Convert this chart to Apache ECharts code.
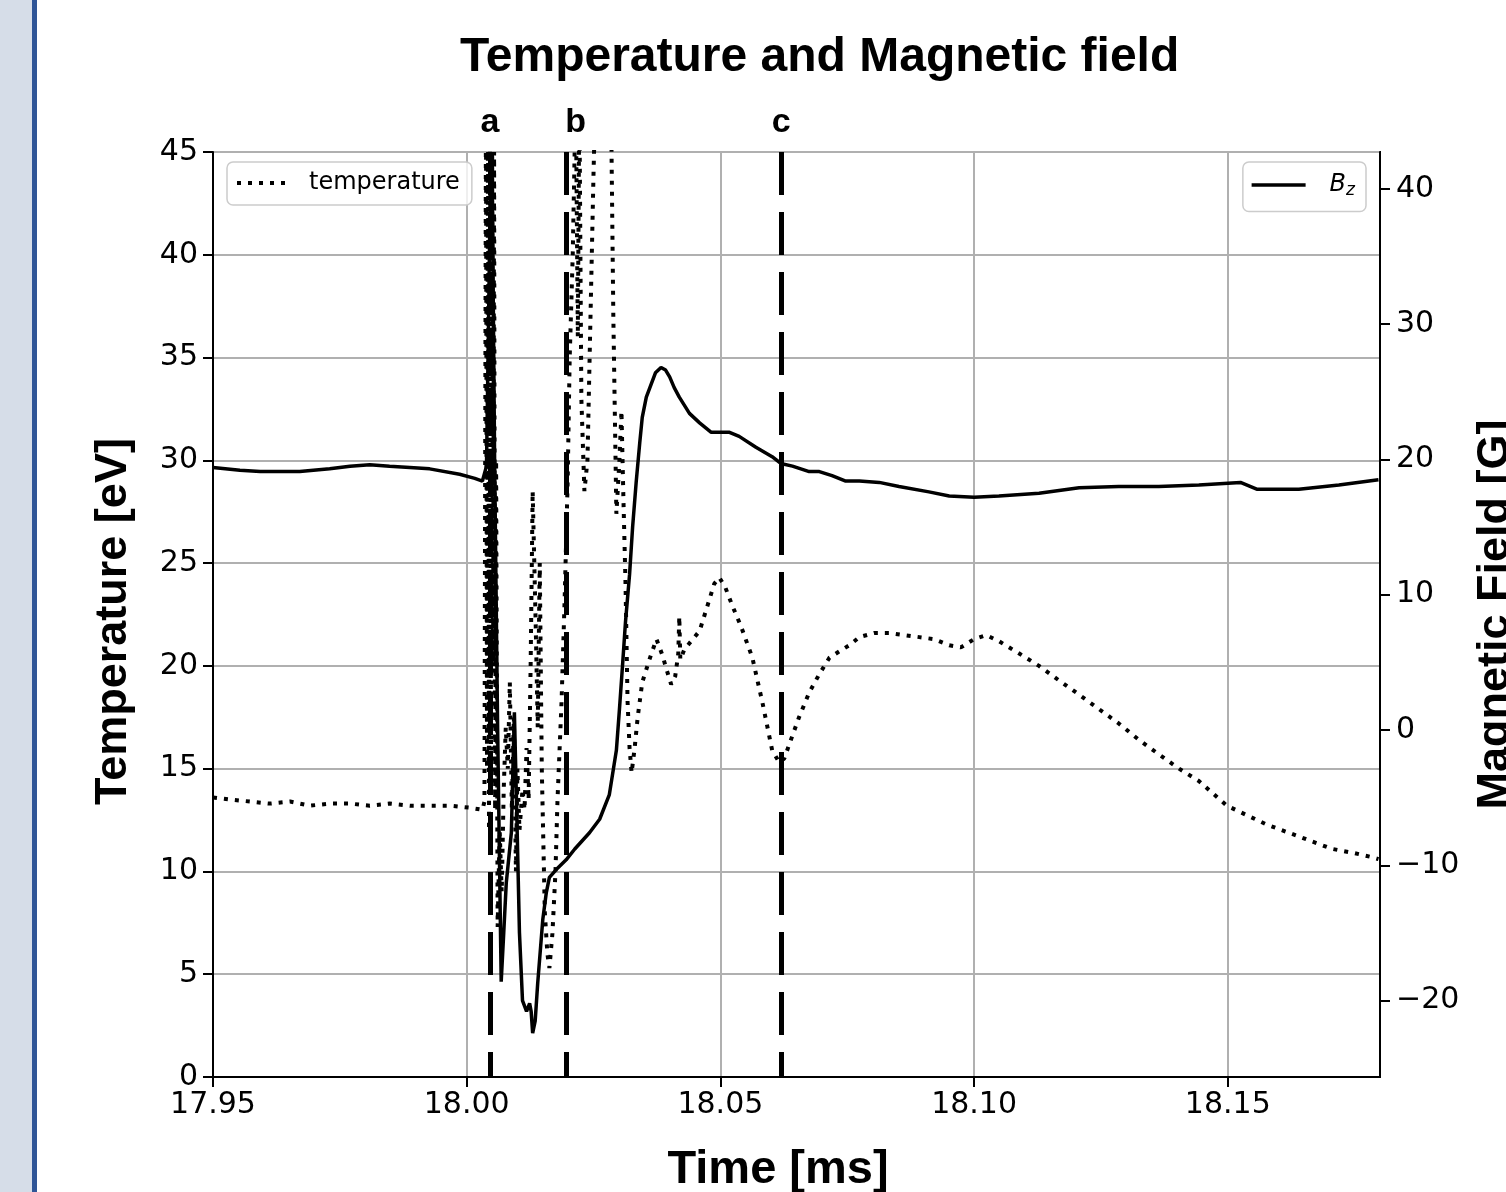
<!DOCTYPE html>
<html>
<head>
<meta charset="utf-8">
<title>Temperature and Magnetic field</title>
<script src="https://cdn.jsdelivr.net/npm/echarts@6/dist/echarts.min.js"></script>
<style>
    html, body { margin: 0; padding: 0; background: #fff; }
    #chart { width: 1506px; height: 1192px; }
</style>
</head>
<body>
<div id="chart"></div>
<script>
// time axis [ms]
const xTicks = [17.95, 18.00, 18.05, 18.10, 18.15];
const tempTicks = [0, 5, 10, 15, 20, 25, 30, 35, 40, 45];
const bzTicks = [-20, -10, 0, 10, 20, 30, 40];

// temperature [eV] (dotted line, left axis)
const timeTemp = [
    17.9500, 17.9533, 17.9573, 17.9612, 17.9652, 17.9691, 17.9730, 17.9770, 17.9809, 17.9848,
    17.9888, 17.9927, 17.9967, 18.0006, 18.0031, 18.0035, 18.0038, 18.0040, 18.0042, 18.0044,
    18.0046, 18.0048, 18.0050, 18.0052, 18.0054, 18.0056, 18.0058, 18.0061, 18.0065, 18.0069,
    18.0073, 18.0077, 18.0081, 18.0085, 18.0089, 18.0093, 18.0097, 18.0100, 18.0104, 18.0110,
    18.0114, 18.0118, 18.0122, 18.0126, 18.0130, 18.0136, 18.0140, 18.0144, 18.0148, 18.0154,
    18.0159, 18.0163, 18.0169, 18.0175, 18.0179, 18.0187, 18.0193, 18.0199, 18.0203, 18.0209,
    18.0215, 18.0219, 18.0222, 18.0226, 18.0232, 18.0238, 18.0244, 18.0250, 18.0254, 18.0260,
    18.0270, 18.0285, 18.0289, 18.0295, 18.0301, 18.0305, 18.0309, 18.0313, 18.0317, 18.0321,
    18.0325, 18.0331, 18.0337, 18.0346, 18.0360, 18.0374, 18.0386, 18.0393, 18.0403, 18.0411,
    18.0417, 18.0419, 18.0421, 18.0429, 18.0439, 18.0459, 18.0478, 18.0488, 18.0498, 18.0510,
    18.0524, 18.0541, 18.0563, 18.0583, 18.0602, 18.0616, 18.0626, 18.0636, 18.0655, 18.0675,
    18.0695, 18.0715, 18.0734, 18.0754, 18.0774, 18.0803, 18.0833, 18.0862, 18.0892, 18.0921,
    18.0951, 18.0974, 18.1000, 18.1024, 18.1049, 18.1089, 18.1128, 18.1167, 18.1207, 18.1246,
    18.1285, 18.1325, 18.1364, 18.1404, 18.1443, 18.1498, 18.1575, 18.1640, 18.1705, 18.1748,
    18.1783, 18.1797
];
const temperature = [
    13.6, 13.5, 13.4, 13.3, 13.4, 13.2, 13.3, 13.3, 13.2, 13.3,
    13.2, 13.2, 13.2, 13.1, 13.0, 13.4, 48, 15, 48, 12,
    48, 14, 48, 20, 45, 13, 30, 7.3, 12, 9,
    14, 17, 15, 19.2, 13, 17.5, 10, 15, 12, 14,
    13, 16, 13.5, 20, 28.5, 22, 17, 25, 15, 8,
    6, 5.3, 7, 10, 13.5, 18.3, 23.2, 29, 35, 40,
    48, 36, 48, 33, 28.5, 30, 37, 44, 48, 50,
    52, 46, 37, 27.4, 30, 32.4, 28, 24, 18.3, 16,
    14.8, 16, 17.5, 19.2, 20.3, 21.3, 20.5, 19.9, 19.1, 19.5,
    20.6, 22.4, 20.3, 20.8, 21.1, 21.7, 23.2, 24.0, 24.3, 23.8,
    22.9, 21.9, 20.4, 18.2, 15.9, 15.3, 15.5, 16.2, 17.5, 18.7,
    19.6, 20.4, 20.7, 21.0, 21.4, 21.6, 21.6, 21.5, 21.4, 21.3,
    21.0, 20.9, 21.3, 21.5, 21.2, 20.6, 20.0, 19.3, 18.6, 17.9,
    17.2, 16.4, 15.7, 15.0, 14.4, 13.2, 12.3, 11.7, 11.1, 10.9,
    10.7, 10.6
];

// magnetic field Bz [G] (solid line, right axis)
const timeBz = [
    17.9500, 17.9553, 17.9593, 17.9671, 17.9730, 17.9770, 17.9809, 17.9848, 17.9888, 17.9927,
    17.9986, 18.0016, 18.0031, 18.0039, 18.0043, 18.0047, 18.0051, 18.0055, 18.0061, 18.0068,
    18.0073, 18.0078, 18.0088, 18.0091, 18.0094, 18.0098, 18.0104, 18.0110, 18.0118, 18.0124,
    18.0127, 18.0130, 18.0135, 18.0140, 18.0150, 18.0157, 18.0163, 18.0177, 18.0196, 18.0213,
    18.0242, 18.0262, 18.0281, 18.0295, 18.0301, 18.0307, 18.0313, 18.0321, 18.0327, 18.0334,
    18.0341, 18.0346, 18.0354, 18.0364, 18.0372, 18.0383, 18.0392, 18.0400, 18.0409, 18.0419,
    18.0439, 18.0459, 18.0482, 18.0518, 18.0537, 18.0570, 18.0602, 18.0619, 18.0642, 18.0675,
    18.0695, 18.0720, 18.0747, 18.0774, 18.0813, 18.0852, 18.0911, 18.0951, 18.1000, 18.1049,
    18.1128, 18.1207, 18.1285, 18.1364, 18.1443, 18.1525, 18.1557, 18.1640, 18.1719, 18.1797
];
const bz = [
    19.4, 19.2, 19.1, 19.1, 19.3, 19.5, 19.6, 19.5, 19.4, 19.3,
    18.9, 18.6, 18.4, 19.5, 30, 42.0, 38, 20, 0, -18.6,
    -15, -11.3, -7.6, -3, 1.3, -5, -15, -20, -20.8, -20.2,
    -20.8, -22.4, -21.5, -18.7, -14, -12, -10.9, -10.3, -9.6, -8.8,
    -7.6, -6.6, -4.8, -1.5, 1.5, 4.7, 8, 11.5, 15, 18.3,
    21.2, 23.1, 24.6, 25.6, 26.4, 26.8, 26.6, 26.1, 25.3, 24.6,
    23.4, 22.7, 22.0, 22.0, 21.7, 20.9, 20.2, 19.7, 19.5, 19.1,
    19.1, 18.8, 18.4, 18.4, 18.3, 18.0, 17.6, 17.3, 17.2, 17.3,
    17.5, 17.9, 18.0, 18.0, 18.1, 18.3, 17.8, 17.8, 18.1, 18.5
];

// event markers
const markerNames = ['a', 'b', 'c'];
const markerTimes = [18.0046, 18.0197, 18.0620];

const tickFont = 'DejaVu Sans';
const boldFont = 'Liberation Sans, Arial, sans-serif';

let myChart = echarts.init(document.getElementById('chart'), null, { renderer: 'canvas' });

let tempData = timeTemp.map((t, i) => [t, temperature[i]]);
let bzData = timeBz.map((t, i) => [t, bz[i]]);

let markerLines = markerTimes.map((t, i) => {
    let start = { coord: [t, 45], name: markerNames[i] };
    if (markerNames[i] === 'b') {
        start.label = { offset: [9, 0] };
    }
    return [start, { coord: [t, 0] }];
});

let option = {
    animation: false,
    backgroundColor: '#ffffff',
    title: {
        text: 'Temperature and Magnetic field',
        left: 455,
        top: 29,
        textStyle: {
            fontFamily: boldFont,
            fontWeight: 'bold',
            fontSize: 48,
            color: '#000'
        }
    },
    graphic: [
        {
            type: 'rect',
            left: 0, top: 0,
            shape: { width: 32, height: 1192 },
            style: { fill: '#d6dde8' },
            silent: true
        },
        {
            type: 'rect',
            left: 32, top: 0,
            shape: { width: 5, height: 1192 },
            style: { fill: '#2f5597' },
            silent: true
        }
    ],
    legend: [
        {
            data: ['temperature'],
            left: 227,
            top: 162,
            itemWidth: 48,
            itemHeight: 24,
            padding: [9, 12, 10, 8],
            backgroundColor: 'rgba(255,255,255,0.8)',
            borderColor: '#cccccc',
            borderWidth: 1.5,
            borderRadius: 6,
            itemStyle: { color: 'transparent', borderWidth: 0, opacity: 0 },
            lineStyle: { color: '#000', width: 4, type: [4, 7] },
            formatter: function(name) {
                return '{g|}{t|' + name + '}';
            },
            textStyle: {
                color: '#000',
                rich: {
                    g: { width: 19 },
                    t: { fontFamily: tickFont, fontSize: 24, color: '#000' }
                }
            }
        },
        {
            data: ['Bz'],
            right: 140,
            top: 162,
            itemWidth: 54,
            itemHeight: 25,
            padding: [11, 11, 12, 7],
            backgroundColor: 'rgba(255,255,255,0.8)',
            borderColor: '#cccccc',
            borderWidth: 1.5,
            borderRadius: 6,
            itemStyle: { color: 'transparent', borderWidth: 0, opacity: 0 },
            lineStyle: { color: '#000', width: 3.5, type: 'solid' },
            formatter: function() {
                return '{g|}{b|B}{s|z}';
            },
            textStyle: {
                color: '#000',
                rich: {
                    g: { width: 19 },
                    b: { fontFamily: tickFont, fontStyle: 'italic', fontSize: 24, color: '#000' },
                    s: { fontFamily: tickFont, fontStyle: 'italic', fontSize: 17, color: '#000', padding: [12, 0, 0, 0] }
                }
            }
        }
    ],
    grid: {
        left: 213,
        right: 126,
        top: 152,
        bottom: 115,
        outerBoundsMode: 'none',
        show: true,
        borderColor: '#000',
        borderWidth: 2,
        backgroundColor: 'transparent'
    },
    xAxis: {
        type: 'value',
        min: 17.95,
        max: 18.18,
        interval: 0.05,
        name: 'Time [ms]',
        nameLocation: 'middle',
        nameGap: 70,
        nameTextStyle: {
            fontFamily: boldFont,
            fontWeight: 'bold',
            fontSize: 47,
            color: '#000',
            padding: [0, 37, 0, 0]
        },
        axisLine: { show: true, lineStyle: { color: '#000', width: 2 } },
        axisTick: { show: true, length: 10, lineStyle: { color: '#000', width: 2 }, customValues: xTicks },
        axisLabel: {
            customValues: xTicks,
            margin: 13,
            fontFamily: tickFont,
            fontSize: 30,
            color: '#000',
            formatter: function(value) {
                return value.toFixed(2);
            }
        },
        splitLine: { show: true, lineStyle: { color: '#b0b0b0', width: 2 } }
    },
    yAxis: [
        {
            type: 'value',
            min: 0,
            max: 45,
            interval: 5,
            name: 'Temperature [eV]',
            nameLocation: 'middle',
            nameGap: 77,
            nameTextStyle: {
                fontFamily: boldFont,
                fontWeight: 'bold',
                fontSize: 45,
                color: '#000',
                padding: [0, 14, 0, 0]
            },
            axisLine: { show: true, lineStyle: { color: '#000', width: 2 } },
            axisTick: { show: true, length: 10, lineStyle: { color: '#000', width: 2 }, customValues: tempTicks },
            axisLabel: {
                customValues: tempTicks,
                margin: 15,
                fontFamily: tickFont,
                fontSize: 30,
                color: '#000'
            },
            splitLine: { show: true, lineStyle: { color: '#b0b0b0', width: 2 } }
        },
        {
            type: 'value',
            min: -25.65,
            max: 42.72,
            position: 'right',
            name: 'Magnetic Field [G]',
            nameLocation: 'middle',
            nameGap: 93,
            nameTextStyle: {
                fontFamily: boldFont,
                fontWeight: 'bold',
                fontSize: 45,
                color: '#000'
            },
            axisLine: { show: true, lineStyle: { color: '#000', width: 2 } },
            axisTick: { show: true, length: 10, lineStyle: { color: '#000', width: 2 }, customValues: bzTicks },
            axisLabel: {
                customValues: bzTicks,
                margin: 16,
                fontFamily: tickFont,
                fontSize: 30,
                color: '#000',
                formatter: function(value) {
                    return value < 0 ? '\u2212' + Math.abs(value) : String(value);
                }
            },
            splitLine: { show: false }
        }
    ],
    series: [
        {
            name: 'temperature',
            type: 'line',
            yAxisIndex: 0,
            data: tempData,
            symbol: 'none',
            clip: true,
            lineStyle: {
                color: '#000',
                width: 4,
                type: [4, 7]
            },
            itemStyle: { color: '#000' },
            markLine: {
                silent: true,
                symbol: ['none', 'none'],
                lineStyle: {
                    color: '#000',
                    width: 5,
                    type: [43, 17]
                },
                label: {
                    show: true,
                    position: 'start',
                    distance: 12,
                    fontFamily: boldFont,
                    fontWeight: 'bold',
                    fontSize: 34,
                    color: '#000',
                    formatter: function(params) {
                        return params.name;
                    }
                },
                emphasis: { disabled: true },
                data: markerLines
            }
        },
        {
            name: 'Bz',
            type: 'line',
            yAxisIndex: 1,
            data: bzData,
            symbol: 'none',
            clip: true,
            lineStyle: {
                color: '#000',
                width: 3.5
            },
            itemStyle: { color: '#000' }
        }
    ]
};

myChart.setOption(option);

window.addEventListener('resize', function() {
    myChart.resize();
});
</script>
</body>
</html>
